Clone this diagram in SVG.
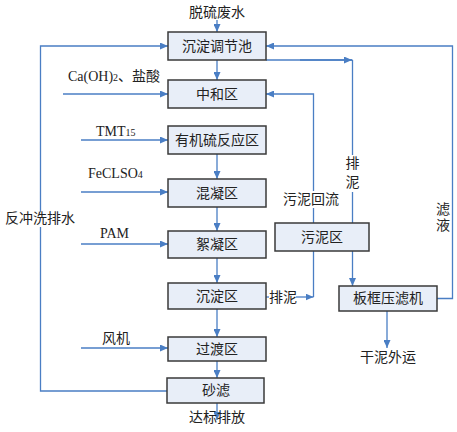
<svg xmlns="http://www.w3.org/2000/svg" width="457" height="432" viewBox="0 0 457 432">
<style>
.box{fill:#E8EEF8;stroke:#3A3A3A;stroke-width:1.5}
.ln{fill:none;stroke:#4A7EC4;stroke-width:1.3}
.t{font-family:"Liberation Serif","Noto Sans CJK SC",serif;font-size:14px;fill:#222}
.c{text-anchor:middle}
</style>
<defs>
<marker id="ah" viewBox="0 0 8 7" refX="8" refY="3.5" markerWidth="8" markerHeight="7" markerUnits="userSpaceOnUse" orient="auto">
<path d="M0,0 L8,3.5 L0,7 z" fill="#4A7EC4"/>
</marker>
</defs>
<rect width="457" height="432" fill="#fff"/>
<g id="connectors">
<path class="ln" d="M217,20 V32" marker-end="url(#ah)"/>
<path class="ln" d="M217,60 V80" marker-end="url(#ah)"/>
<path class="ln" d="M217,154 V179" marker-end="url(#ah)"/>
<path class="ln" d="M217,207 V231" marker-end="url(#ah)"/>
<path class="ln" d="M217,258 V283" marker-end="url(#ah)"/>
<path class="ln" d="M217,309 V337" marker-end="url(#ah)"/>
<path class="ln" d="M217,361 V378" marker-end="url(#ah)"/>
<path class="ln" d="M217,403 V420" marker-end="url(#ah)"/>
<path class="ln" d="M63,94 H168" marker-end="url(#ah)"/>
<path class="ln" d="M81,140 H168" marker-end="url(#ah)"/>
<path class="ln" d="M81,192 H168" marker-end="url(#ah)"/>
<path class="ln" d="M81,244 H168" marker-end="url(#ah)"/>
<path class="ln" d="M81,348 H168" marker-end="url(#ah)"/>
<path class="ln" d="M167,391 H40.5 V227"/>
<path class="ln" d="M40.5,212 V46 H168" marker-end="url(#ah)"/>
<path class="ln" d="M266,60 H352.5"/>
<path class="ln" d="M300,60 H352" marker-end="url(#ah)"/>
<path class="ln" d="M352.5,60 V286" marker-end="url(#ah)"/>
<path class="ln" d="M313.5,191 V94 H266" marker-end="url(#ah)"/>
<path class="ln" d="M313.5,223 V208"/>
<path class="ln" d="M313.5,251 V297"/>
<path class="ln" d="M266,297 H269"/>
<path class="ln" d="M296,297 H313.5" marker-end="url(#ah)"/>
<path class="ln" d="M437,298.5 H452.5 V46 H266" marker-end="url(#ah)"/>
<path class="ln" d="M387,311 V348" marker-end="url(#ah)"/>
</g>
<g id="labels">
<text class="t c" x="217" y="17">脱硫废水</text>
<text class="t" x="68" y="81">Ca(OH)<tspan font-size="10">2</tspan>、盐酸</text>
<text class="t" x="96" y="136">TMT<tspan font-size="10">15</tspan></text>
<text class="t" x="88" y="178">FeCLSO<tspan font-size="10">4</tspan></text>
<text class="t" x="100" y="238">PAM</text>
<text class="t" x="102" y="343">风机</text>
<text class="t" x="5" y="223">反冲洗排水</text>
<text class="t" x="283" y="204">污泥回流</text>
<rect x="345" y="155" width="15" height="37" fill="#fff"/>
<text class="t c" x="352.5" y="168">排</text>
<text class="t c" x="352.5" y="187">泥</text>
<text class="t c" x="443" y="214">滤</text>
<text class="t c" x="443" y="230">液</text>
<text class="t" x="269" y="302">排泥</text>
<text class="t c" x="388" y="362">干泥外运</text>
<text class="t c" x="217" y="422">达标排放</text>
</g>
<g id="n1"><rect class="box" x="168" y="32" width="98" height="28"/><text class="t c" x="217" y="51">沉淀调节池</text></g>
<g id="n2"><rect class="box" x="168" y="80" width="98" height="28"/><text class="t c" x="217" y="99">中和区</text></g>
<g id="n3"><rect class="box" x="168" y="126" width="98" height="28"/><text class="t c" x="217" y="145">有机硫反应区</text></g>
<g id="n4"><rect class="box" x="168" y="179" width="98" height="28"/><text class="t c" x="217" y="198">混凝区</text></g>
<g id="n5"><rect class="box" x="168" y="231" width="98" height="27"/><text class="t c" x="217" y="249">絮凝区</text></g>
<g id="n6"><rect class="box" x="168" y="283" width="98" height="26"/><text class="t c" x="217" y="301">沉淀区</text></g>
<g id="n7"><rect class="box" x="168" y="337" width="98" height="24"/><text class="t c" x="217" y="354">过渡区</text></g>
<g id="n8"><rect class="box" x="167" y="378" width="97" height="25"/><text class="t c" x="216" y="395">砂滤</text></g>
<g id="n9"><rect class="box" x="275" y="223" width="94" height="28"/><text class="t c" x="322" y="242">污泥区</text></g>
<g id="n10"><rect class="box" x="339" y="286" width="98" height="25"/><text class="t c" x="388" y="303">板框压滤机</text></g>
</svg>
